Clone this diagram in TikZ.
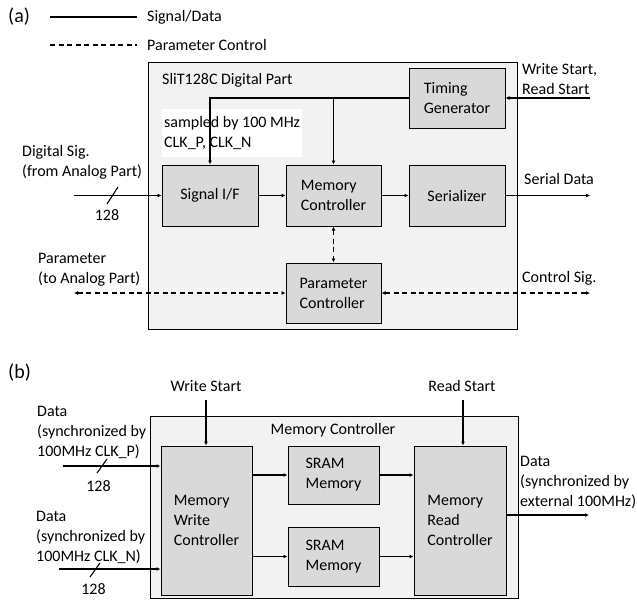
\documentclass[tikz,border=0pt]{standalone}
\usepackage{fontspec}
\setmainfont{Carlito}
\usetikzlibrary{arrows.meta}
\definecolor{outerfill}{HTML}{F2F2F2}
\definecolor{blockfill}{HTML}{D9D9D9}
\tikzset{
	outerbox/.style={draw, line width=1pt, fill=outerfill, inner sep=0pt, anchor=north west},
	block/.style={draw, line width=1pt, fill=blockfill, inner sep=0pt, align=left},
	lbl/.style={inner sep=0pt, anchor=west, align=left},
	sig/.style={line width=1.1pt, -{Latex[length=4pt,width=4pt]}},
	ctl/.style={line width=1.1pt, dash pattern=on 5pt off 3.5pt, {Latex[length=4pt,width=4pt]}-{Latex[length=4pt,width=4pt]}},
	busmark/.style={line width=1.1pt}
}

\begin{document}
\begin{tikzpicture}[x=1pt, y=-1pt, font=\fontsize{16}{20}\selectfont]
		\useasboundingbox (0,0) rectangle (637,600);
		% (a) legend
		\node[lbl, font=\fontsize{20}{24}\selectfont] (tagA) at (8,17) {(a)};
		\coordinate (legS1) at (50,17); \coordinate (legS2) at (137,17);
		\draw[line width=1.1pt] (legS1) -- (legS2);
		\node[lbl] (legSig) at (147,17) {Signal/Data};
		\coordinate (legD1) at (50,45); \coordinate (legD2) at (137,45);
		\draw[line width=1.1pt, dash pattern=on 5pt off 3.5pt] (legD1) -- (legD2);
		\node[lbl] (legCtl) at (147,45) {Parameter Control};
		% (a) digital part
		\node[outerbox, minimum width=369pt, minimum height=267pt] (digi) at (148,62) {};
		\node[lbl] (digiTitle) at (162,80) {SliT128C Digital Part};
		\node[block, minimum width=96pt, minimum height=60pt] (tg) at (457,98) {Timing\\Generator};
		\node[fill=white, inner sep=2pt, anchor=north west, minimum width=134pt, minimum height=48pt, align=left] (smp) at (162,109) {sampled by 100 MHz\\CLK\_P, CLK\_N};
		\node[block, minimum width=96pt, minimum height=61pt] (sif) at (210,195.5) {Signal I/F};
		\node[block, minimum width=95pt, minimum height=61pt] (mc) at (333.5,195.5) {Memory\\Controller};
		\node[block, minimum width=96pt, minimum height=61pt] (ser) at (457,195.5) {Serializer};
		\node[block, minimum width=95pt, minimum height=60pt] (pc) at (333.5,293) {Parameter\\Controller};
		% (a) connections
		\draw[sig] (tg.west) -| (sif.north);
		\draw[sig] (tg.west -| mc.north) -- (mc.north);
		\coordinate (wrIn) at (590,98);
		\draw[sig] (wrIn) -- (tg.east);
		\node[lbl] (wrLbl) at (522,79) {Write Start,\\Read Start};
		\coordinate (digIn) at (74,195.5);
		\draw[sig] (digIn) -- (sif.west);
		\coordinate (bmA) at (112.5,195.5);
		\draw[busmark] ([shift={(-5.5,8.5)}]bmA) -- ([shift={(5.5,-8.5)}]bmA);
		\node[lbl] (digLbl) at (22,162) {Digital Sig.\\(from Analog Part)};
		\node[inner sep=0pt] (busA) at (107,215) {128};
		\draw[sig] (sif.east) -- (mc.west);
		\draw[sig] (mc.east) -- (ser.west);
		\coordinate (serOut) at (590,195.5);
		\draw[sig] (ser.east) -- (serOut);
		\node[lbl] (serLbl) at (524,179) {Serial Data};
		\draw[ctl] (mc.south) -- (pc.north);
		\coordinate (parOut) at (74,293);
		\draw[ctl] (parOut) -- (pc.west);
		\node[lbl] (parLbl) at (38,270) {Parameter\\(to Analog Part)};
		\coordinate (csOut) at (590,293);
		\draw[ctl] (pc.east) -- (csOut);
		\node[lbl] (csLbl) at (522,278) {Control Sig.};
		% (b) memory controller
		\node[lbl, font=\fontsize{20}{24}\selectfont] (tagB) at (8,373) {(b)};
		\node[outerbox, minimum width=368pt, minimum height=182pt] (memc) at (150,416) {};
		\node[inner sep=0pt] (memcTitle) at (333,430) {Memory Controller};
		\node[block, minimum width=91pt, minimum height=149pt] (mwc) at (206.5,520.5) {Memory\\Write\\Controller};
		\node[block, minimum width=91pt, minimum height=58pt] (sramA) at (333.5,475) {SRAM\\Memory};
		\node[block, minimum width=91pt, minimum height=59pt] (sramB) at (333.5,556.5) {SRAM\\Memory};
		\node[block, minimum width=92pt, minimum height=149pt] (mrc) at (460,520.5) {Memory\\Read\\Controller};
		% (b) connections
		\node[inner sep=0pt] (wsLbl) at (206,386) {Write Start};
		\coordinate (wsIn) at (206,400);
		\draw[sig] (wsIn) -- (wsIn |- mwc.north);
		\node[inner sep=0pt] (rsLbl) at (462,386) {Read Start};
		\coordinate (rsIn) at (463,400);
		\draw[sig] (rsIn) -- (rsIn |- mrc.north);
		\draw[sig] (mwc.east |- sramA.west) -- (sramA.west);
		\draw[sig] (mwc.east |- sramB.west) -- (sramB.west);
		\draw[sig] (sramA.east) -- (sramA.east -| mrc.west);
		\draw[sig] (sramB.east) -- (sramB.east -| mrc.west);
		\coordinate (dOut) at (589,515);
		\draw[sig] (mrc.east |- dOut) -- (dOut);
		\node[lbl] (dOutLbl) at (520,482) {Data\\(synchronized by\\external 100MHz)};
		\coordinate (dInA) at (63,466);
		\draw[sig] (dInA) -- (dInA -| mwc.west);
		\coordinate (bmB) at (102,466);
		\draw[busmark] ([shift={(-5,7)}]bmB) -- ([shift={(5,-7)}]bmB);
		\node[lbl] (dInALbl) at (37,432) {Data\\(synchronized by\\100MHz CLK\_P)};
		\node[inner sep=0pt] (busB) at (98.5,486) {128};
		\coordinate (dInB) at (59,569);
		\draw[sig] (dInB) -- (dInB -| mwc.west);
		\coordinate (bmC) at (95,570);
		\draw[busmark] ([shift={(-5,7)}]bmC) -- ([shift={(5,-7)}]bmC);
		\node[lbl] (dInBLbl) at (36,537) {Data\\(synchronized by\\100MHz CLK\_N)};
		\node[inner sep=0pt] (busC) at (93.5,589) {128};
	\end{tikzpicture}
\end{document}
